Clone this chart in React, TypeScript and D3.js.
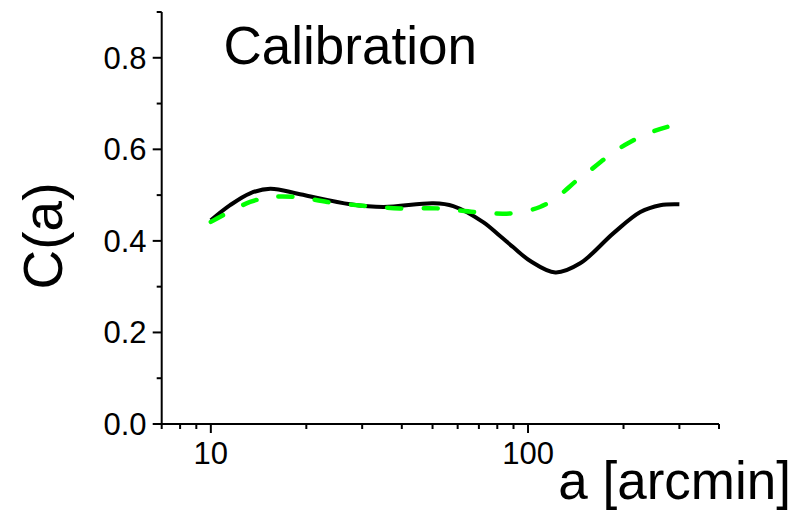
import React from "react";
import * as d3 from "d3";

const W = 795;
const H = 511;

// Black solid curve: C(a) vs a [arcmin]
const blackA = [10, 11.5, 13.3, 15.4, 19.1, 27.5, 35.0, 50.3, 58.1, 72.2, 81.8, 89.9, 101.7, 122, 146, 186, 226, 261, 300];
const blackC = [0.445, 0.478, 0.504, 0.514, 0.502, 0.480, 0.474, 0.482, 0.476, 0.441, 0.410, 0.386, 0.356, 0.331, 0.351, 0.417, 0.463, 0.478, 0.480];

// Green dashed curve
const greenA = [10, 13.3, 15.7, 19.1, 23.3, 31.1, 39.5, 52, 68, 88, 109, 123.7, 143, 161, 186, 210, 243, 275];
const greenC = [0.4415, 0.485, 0.496, 0.495, 0.485, 0.476, 0.471, 0.471, 0.463, 0.460, 0.474, 0.496, 0.533, 0.560, 0.594, 0.616, 0.637, 0.649];

const xMajorTicks = [10, 100];
const xMinorTicks = [7, 8, 9, 20, 30, 40, 50, 60, 70, 80, 90, 200, 300, 400];
const yMajorTicks = [0, 0.2, 0.4, 0.6, 0.8];
const yMinorTicks = [0.1, 0.3, 0.5, 0.7, 0.9];

const FONT = "'Liberation Sans', Arial, sans-serif";

export default function App() {
  const x = d3.scaleLog().domain([7, 400]).range([161.7, 719]);
  const y = d3.scaleLinear().domain([0, 0.9]).range([424, 12]);

  const line = d3
    .line<[number, number]>()
    .x((d) => x(d[0]))
    .y((d) => y(d[1]))
    .curve(d3.curveCatmullRom.alpha(0.5));

  const blackPts = blackA.map((a, i) => [a, blackC[i]] as [number, number]);
  const greenPts = greenA.map((a, i) => [a, greenC[i]] as [number, number]);

  const x0 = x(7);
  const y0 = y(0);

  return (
    <svg
      width={W}
      height={H}
      style={{ position: "absolute", left: 0, top: 0, background: "#fff" }}
    >
      <rect width={W} height={H} fill="#fff" />
      {/* curves */}
      <path d={line(blackPts) || ""} fill="none" stroke="#000" strokeWidth={4} />
      <path
        d={line(greenPts) || ""}
        fill="none"
        stroke="#00ff00"
        strokeWidth={4.5}
        strokeDasharray="14 22.5"
        strokeLinecap="round"
      />
      {/* axes */}
      <line x1={x0} x2={x0} y1={y(0.9)} y2={y0 + 1} stroke="#000" strokeWidth={2} />
      <line x1={x0 - 1} x2={x(400)} y1={y0} y2={y0} stroke="#000" strokeWidth={2} />
      {yMajorTicks.map((t) => (
        <g key={"ym" + t}>
          <line x1={x0 - 9} x2={x0} y1={y(t)} y2={y(t)} stroke="#000" strokeWidth={2} />
          <text
            x={146.5}
            y={y(t) + 11}
            textAnchor="end"
            fontFamily={FONT}
            fontSize={31}
            fill="#000"
          >
            {t.toFixed(1)}
          </text>
        </g>
      ))}
      {yMinorTicks.map((t) => (
        <line key={"yn" + t} x1={x0 - 5} x2={x0} y1={y(t)} y2={y(t)} stroke="#000" strokeWidth={2} />
      ))}
      {xMajorTicks.map((t) => (
        <g key={"xm" + t}>
          <line x1={x(t)} x2={x(t)} y1={y0} y2={y0 + 9} stroke="#000" strokeWidth={2} />
          <text
            x={x(t)}
            y={y0 + 40}
            textAnchor="middle"
            fontFamily={FONT}
            fontSize={31}
            fill="#000"
          >
            {t}
          </text>
        </g>
      ))}
      {xMinorTicks.map((t) => (
        <line key={"xn" + t} x1={x(t)} x2={x(t)} y1={y0} y2={y0 + 5} stroke="#000" strokeWidth={2} />
      ))}
      {/* axis titles */}
      <text x={791} y={499} textAnchor="end" fontFamily={FONT} fontSize={53} fill="#000">
        a [arcmin]
      </text>
      <text
        transform="translate(62,236) rotate(-90)"
        textAnchor="middle"
        fontFamily={FONT}
        fontSize={55}
        fill="#000"
      >
        C(a)
      </text>
      {/* title */}
      <text x={223.5} y={64} fontFamily={FONT} fontSize={53} fill="#000">
        Calibration
      </text>
    </svg>
  );
}
